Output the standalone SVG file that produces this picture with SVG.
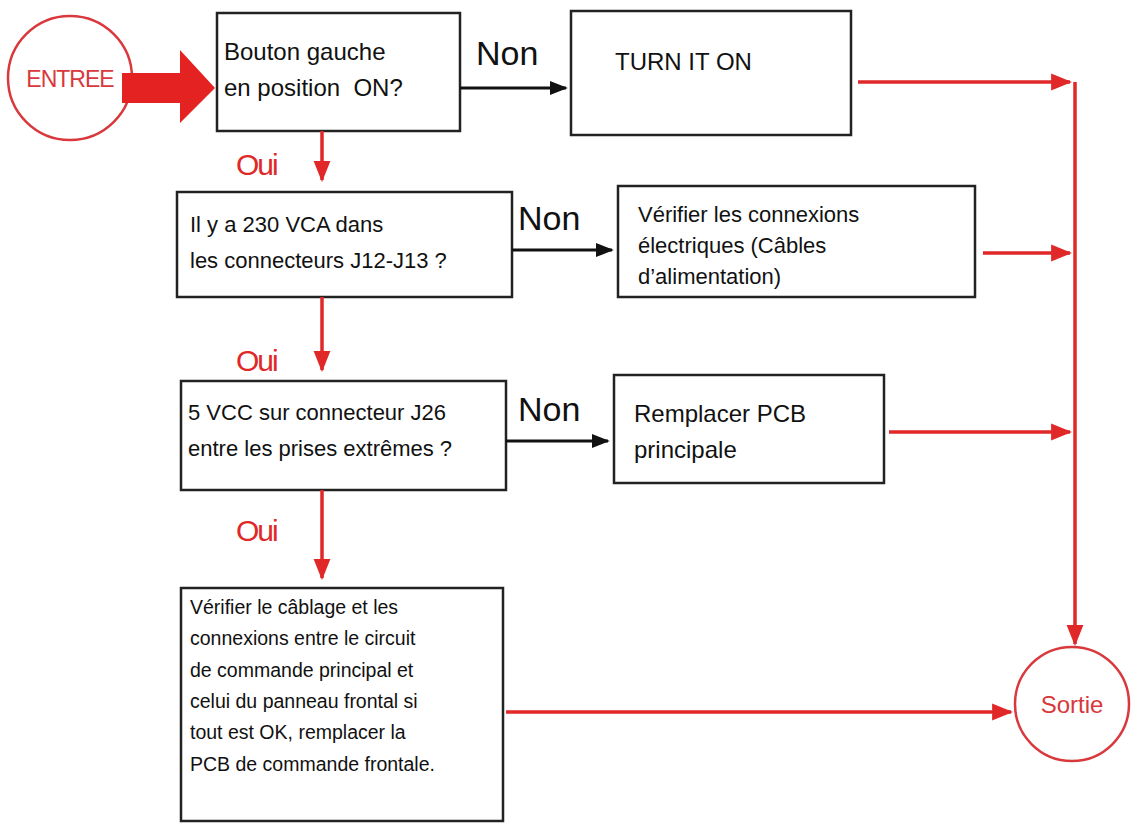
<svg xmlns="http://www.w3.org/2000/svg" width="1132" height="826" viewBox="0 0 1132 826">
<style>
.b{fill:#fff;stroke:#222;stroke-width:2.5}
.t{font-family:"Liberation Sans",Arial,sans-serif;fill:#111}
.r{stroke:#e02828;stroke-width:3.5;fill:none}
.k{stroke:#111;stroke-width:3;fill:none}
.oui{font-family:"Liberation Sans",Arial,sans-serif;fill:#e02828;font-size:30px;letter-spacing:-2px}
.non{font-family:"Liberation Sans",Arial,sans-serif;fill:#111;font-size:34px}
</style>
<defs>
<marker id="ar" viewBox="0 0 10 10" refX="9" refY="5" markerWidth="6" markerHeight="6" markerUnits="strokeWidth" orient="auto"><path d="M0,1 L10,5 L0,9 z" fill="#e02828"/></marker>
<marker id="ak" viewBox="0 0 10 10" refX="9" refY="5" markerWidth="6" markerHeight="6" markerUnits="strokeWidth" orient="auto"><path d="M0,1 L10,5 L0,9 z" fill="#111"/></marker>
</defs>
<rect width="1132" height="826" fill="#fff"/>
<g id="entree"><circle cx="70" cy="78" r="62" fill="#fff" stroke="#d9383c" stroke-width="2.5"/><text x="70" y="87" text-anchor="middle" font-family="Liberation Sans,Arial,sans-serif" font-size="23" letter-spacing="-1" fill="#d9383c">ENTREE</text></g>
<g id="sortie"><circle cx="1072" cy="704" r="57" fill="#fff" stroke="#d9383c" stroke-width="2.5"/><text x="1072" y="713" text-anchor="middle" font-family="Liberation Sans,Arial,sans-serif" font-size="24" fill="#d9383c">Sortie</text></g>
<g id="n1"><rect class="b" x="217" y="13" width="243" height="118"/><text class="t" font-size="24"><tspan x="224" y="60">Bouton gauche</tspan><tspan x="224" y="96">en position&#160; ON?</tspan></text></g>
<g id="n2"><rect class="b" x="571" y="11" width="280" height="124"/><text class="t" x="615" y="70" font-size="24">TURN IT ON</text></g>
<g id="n3"><rect class="b" x="177" y="192" width="335" height="105"/><text class="t" font-size="22"><tspan x="190" y="232">Il y a 230 VCA dans</tspan><tspan x="190" y="268">les connecteurs J12-J13 ?</tspan></text></g>
<g id="n4"><rect class="b" x="618" y="186" width="357" height="111"/><text class="t" font-size="22"><tspan x="638" y="222">Vérifier les connexions</tspan><tspan x="638" y="253">électriques (Câbles</tspan><tspan x="638" y="284">d’alimentation)</tspan></text></g>
<g id="n5"><rect class="b" x="181" y="381" width="325" height="109"/><text class="t" font-size="22"><tspan x="188" y="420">5 VCC sur connecteur J26</tspan><tspan x="188" y="456">entre les prises extrêmes ?</tspan></text></g>
<g id="n6"><rect class="b" x="614" y="375" width="270" height="108"/><text class="t" font-size="24"><tspan x="634" y="422">Remplacer PCB</tspan><tspan x="634" y="458">principale</tspan></text></g>
<g id="n7"><rect class="b" x="181" y="588" width="322" height="233"/><text class="t" font-size="19.5"><tspan x="190" y="614">Vérifier le câblage et les</tspan><tspan x="190" y="645">connexions entre le circuit</tspan><tspan x="190" y="677">de commande principal et</tspan><tspan x="190" y="708">celui du panneau frontal si</tspan><tspan x="190" y="739">tout est OK, remplacer la</tspan><tspan x="190" y="771">PCB de commande frontale.</tspan></text></g>
<g id="connectors">
<path d="M122,73 H180 V50 L215,88 L180,123 V103 H122 z" fill="#e52222"/>
<path class="k" d="M460,88 H566" marker-end="url(#ak)"/>
<path class="k" d="M512,250 H612" marker-end="url(#ak)"/>
<path class="k" d="M506,441 H608" marker-end="url(#ak)"/>
<path class="r" d="M322,131 V180" marker-end="url(#ar)"/>
<path class="r" d="M322,297 V370" marker-end="url(#ar)"/>
<path class="r" d="M322,490 V578" marker-end="url(#ar)"/>
<path class="r" d="M858,82 H1070" marker-end="url(#ar)"/>
<path class="r" d="M983,253 H1070" marker-end="url(#ar)"/>
<path class="r" d="M889,432 H1070" marker-end="url(#ar)"/>
<path class="r" d="M1075,82 V644" marker-end="url(#ar)"/>
<path class="r" d="M506,712 H1011" marker-end="url(#ar)"/>
<text class="non" x="476" y="65">Non</text>
<text class="non" x="518" y="230">Non</text>
<text class="non" x="518" y="421">Non</text>
<text class="oui" x="236" y="175">Oui</text>
<text class="oui" x="236" y="371">Oui</text>
<text class="oui" x="236" y="541">Oui</text>
</g>
</svg>
